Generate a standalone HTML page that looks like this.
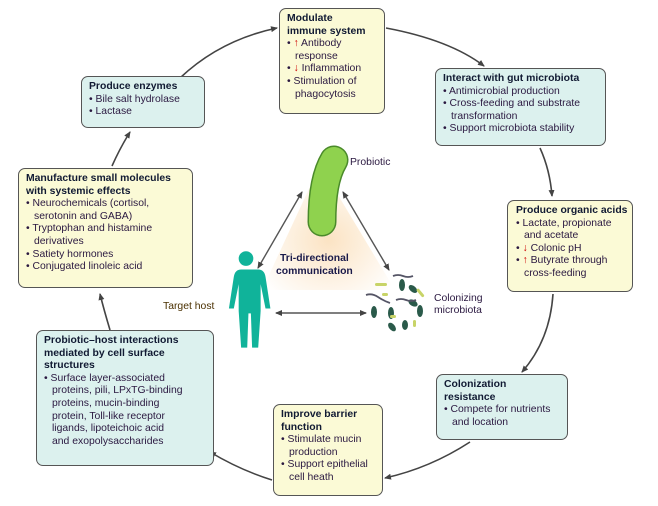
<!DOCTYPE html>
<html><head><meta charset="utf-8"><style>
body{margin:0;width:658px;height:506px;background:#fff;position:relative;overflow:hidden;font-family:"Liberation Sans",sans-serif;}
.b{position:absolute;border:1.3px solid #555;border-radius:7px;box-sizing:border-box;padding:4px 7px;font-size:10.4px;line-height:12.6px;color:#2a1840;}
.c{background:#dcf1ee}.y{background:#fbfad6}
.t{font-weight:bold;color:#111a33}
.l{padding-left:8px;text-indent:-8px}
.lab{position:absolute;font-size:10.4px;color:#2a1840}
</style></head><body>
<svg width="658" height="506" style="position:absolute;left:0;top:0">
<defs>
<marker id="a" markerWidth="8" markerHeight="8" refX="6" refY="4" orient="auto" markerUnits="userSpaceOnUse"><path d="M0,1 L7,4 L0,7 z" fill="#444"/></marker>
<marker id="s" markerWidth="8" markerHeight="8" refX="1" refY="4" orient="auto" markerUnits="userSpaceOnUse"><path d="M7,1 L0,4 L7,7 z" fill="#444"/></marker>
<radialGradient id="g" cx="0.5" cy="0.6" r="0.6"><stop offset="0" stop-color="#fbe3c3"/><stop offset="1" stop-color="#fff"/></radialGradient>
</defs>
<g fill="none" stroke="#444" stroke-width="1.6">
<path d="M180,78 Q220,40 277,28" marker-end="url(#a)"/>
<path d="M386,28 Q450,40 484,66" marker-end="url(#a)"/>
<path d="M540,148 Q550,170 552,196" marker-end="url(#a)"/>
<path d="M553,294 Q550,340 522,372" marker-end="url(#a)"/>
<path d="M470,442 Q430,468 385,478" marker-end="url(#a)"/>
<path d="M272,480 Q240,470 210,452" marker-end="url(#a)"/>
<path d="M110,330 Q104,310 100,294" marker-end="url(#a)"/>
<path d="M112,166 Q120,148 130,132" marker-end="url(#a)"/>
</g>
<polygon points="320,165 395,290 262,290" fill="url(#g)"/>
<g stroke="#555" stroke-width="1.4">
<line x1="302" y1="192" x2="258" y2="268" marker-start="url(#s)" marker-end="url(#a)"/>
<line x1="343" y1="192" x2="389" y2="270" marker-start="url(#s)" marker-end="url(#a)"/>
<line x1="276" y1="313" x2="366" y2="313" marker-start="url(#s)" marker-end="url(#a)"/>
</g>
<path d="M334,160 Q322,180 322,222" fill="none" stroke="#4a8a2a" stroke-width="29" stroke-linecap="round"/>
<path d="M334,160 Q322,180 322,222" fill="none" stroke="#8fd24e" stroke-width="26" stroke-linecap="round"/>
<g fill="#10b39a" transform="translate(246,300) scale(1.22) translate(-246,-300)">
<circle cx="246" cy="266" r="6"/>
<path d="M236,275 h20 q5,0 6,6 l4,26 h-4 l-4,-20 v22 l-2,30 h-5 l-1,-28 h-2 l-1,28 h-5 l-2,-30 v-22 l-4,20 h-4 l4,-26 q1,-6 6,-6z"/>
</g>
<g fill="#2a5a4a">
<ellipse cx="402" cy="285" rx="3" ry="6"/><ellipse cx="413" cy="289" rx="5" ry="3" transform="rotate(40 413 289)"/>
<ellipse cx="374" cy="312" rx="3" ry="6"/><ellipse cx="413" cy="303" rx="5" ry="3" transform="rotate(30 413 303)"/>
<ellipse cx="391" cy="313" rx="3" ry="6"/><ellipse cx="405" cy="325" rx="3" ry="5"/><ellipse cx="420" cy="311" rx="3" ry="6"/><ellipse cx="392" cy="327" rx="5" ry="3" transform="rotate(50 392 327)"/>
</g>
<g fill="#c8d468"><rect x="375" y="283" width="12" height="3" rx="1.5"/><rect x="382" y="293" width="6" height="3" rx="1.5"/><rect x="390" y="315" width="6" height="3" rx="1.5"/><rect x="416" y="290" width="3" height="10" rx="1.5" transform="rotate(-40 416 290)"/><rect x="413" y="320" width="3" height="7" rx="1.5"/></g>
<g fill="none" stroke="#556" stroke-width="1.8"><path d="M393,276 q5,-2 10,0 t10,0"/><path d="M366,295 q6,-2 12,2 t12,6"/><path d="M396,300 q5,-2 10,0 t10,0"/></g>
</svg>
<div class="b y" style="left:279px;top:8px;width:106px;height:106px"><div class="t">Modulate<br>immune system</div><div class="l">• <span style="color:#c00">↑</span> Antibody response</div><div class="l">• <span style="color:#c00">↓</span> Inflammation</div><div class="l">• Stimulation of phagocytosis</div></div>
<div class="b c" style="left:81px;top:76px;width:124px;height:52px"><div class="t">Produce enzymes</div><div class="l">• Bile salt hydrolase</div><div class="l">• Lactase</div></div>
<div class="b c" style="left:435px;top:68px;width:171px;height:78px"><div class="t">Interact with gut microbiota</div><div class="l">• Antimicrobial production</div><div class="l">• Cross-feeding and substrate transformation</div><div class="l">• Support microbiota stability</div></div>
<div class="b y" style="left:18px;top:168px;width:175px;height:120px"><div class="t">Manufacture small molecules<br>with systemic effects</div><div class="l">• Neurochemicals (cortisol,<br>serotonin and GABA)</div><div class="l">• Tryptophan and histamine derivatives</div><div class="l">• Satiety hormones</div><div class="l">• Conjugated linoleic acid</div></div>
<div class="b y" style="left:507px;top:200px;width:126px;height:92px;padding:4px 5px 4px 8px"><div class="t" style="white-space:nowrap">Produce organic acids</div><div class="l">• Lactate, propionate and acetate</div><div class="l">• <span style="color:#c00">↓</span> Colonic pH</div><div class="l">• <span style="color:#c00">↑</span> Butyrate through cross-feeding</div></div>
<div class="b c" style="left:36px;top:330px;width:178px;height:136px"><div class="t">Probiotic–host interactions<br>mediated by cell surface<br>structures</div><div class="l">• Surface layer-associated<br>proteins, pili, LPxTG-binding<br>proteins, mucin-binding<br>protein, Toll-like receptor<br>ligands, lipoteichoic acid<br>and exopolysaccharides</div></div>
<div class="b c" style="left:436px;top:374px;width:132px;height:66px"><div class="t">Colonization<br>resistance</div><div class="l">• Compete for nutrients and location</div></div>
<div class="b y" style="left:273px;top:404px;width:110px;height:92px"><div class="t">Improve barrier function</div><div class="l">• Stimulate mucin production</div><div class="l">• Support epithelial cell heath</div></div>
<div class="lab" style="left:350px;top:157px">Probiotic</div>
<div class="lab" style="left:163px;top:301px;color:#4a3000">Target host</div>
<div class="lab" style="left:434px;top:293px;line-height:12px">Colonizing<br>microbiota</div>
<div class="lab" style="left:276px;top:252px;font-weight:bold;color:#1a1a4a;text-align:center;line-height:13px">Tri-directional<br>communication</div>
</body></html>
